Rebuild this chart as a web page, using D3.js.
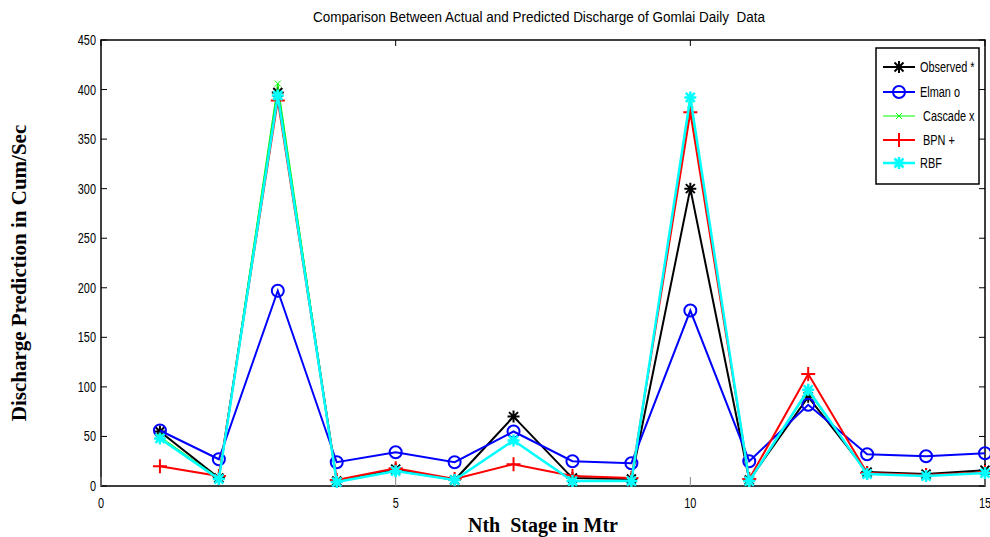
<!DOCTYPE html>
<html>
<head>
<meta charset="utf-8">
<script src="https://cdn.jsdelivr.net/npm/d3@7"></script>
<style>
  html, body { margin: 0; padding: 0; background: #fff; }
  svg { display: block; }
  text { white-space: pre; }
</style>
</head>
<body>
<svg id="chart" width="990" height="537"></svg>
<script>
// Stage index (x) and discharge series
const stages = [1, 2, 3, 4, 5, 6, 7, 8, 9, 10, 11, 12, 13, 14, 15];
const observed = [55, 8, 397, 5, 17, 6, 70, 8, 7, 300, 6, 90, 14, 12, 16];
const elman    = [56, 27, 197, 24, 34, 24, 55, 25, 23, 177, 25, 82, 32, 30, 33];
const cascade  = [50, 8, 406, 5, 15, 6, 46, 5, 5, 385, 6, 95, 13, 11, 14];
const bpn      = [20, 10, 389, 6, 18, 7, 22, 10, 8, 377, 7, 113, 13, 11, 14];
const rbf      = [48, 7, 394, 4, 15, 6, 46, 5, 5, 392, 5, 97, 12, 10, 13];

const xTicks = [0, 5, 10, 15];
const yTicks = [0, 50, 100, 150, 200, 250, 300, 350, 400, 450];

const titleText = "Comparison Between Actual and Predicted Discharge of Gomlai Daily  Data";
const xLabel = "Nth  Stage in Mtr";
const yLabel = "Discharge Prediction in Cum/Sec";

const seriesDefs = [
  { name: "Observed *", values: observed, color: "#000000", width: 2,   marker: "asterisk", size: 6 },
  { name: "Elman o",    values: elman,    color: "#0000ff", width: 2,   marker: "circle",   size: 6 },
  { name: "Cascade x",  values: cascade,  color: "#00ff00", width: 1,   marker: "x",        size: 3 },
  { name: "BPN +",      values: bpn,      color: "#ff0000", width: 2,   marker: "plus",     size: 7 },
  { name: "RBF",        values: rbf,      color: "#00ffff", width: 2.5, marker: "asterisk", size: 6 }
];

const svg = d3.select("#chart");
const plot = { left: 101, right: 985, top: 40, bottom: 486 };

const x = d3.scaleLinear().domain([0, 15]).range([plot.left, plot.right]);
const y = d3.scaleLinear().domain([0, 450]).range([plot.bottom, plot.top]);

const narrowFont = "Liberation Sans, Arial, sans-serif";
const serifFont = "Liberation Serif, Times New Roman, serif";

// Marker shapes as SVG paths centred at (0,0)
function markerPath(type, s) {
  if (type === "circle") {
    return `M${s},0A${s},${s} 0 1,1 ${-s},0A${s},${s} 0 1,1 ${s},0Z`;
  }
  if (type === "plus") {
    return `M${-s},0H${s}M0,${-s}V${s}`;
  }
  if (type === "x") {
    return `M${-s},${-s}L${s},${s}M${-s},${s}L${s},${-s}`;
  }
  // asterisk: plus + diagonal cross
  const d = s * 0.75;
  return `M${-s},0H${s}M0,${-s}V${s}M${-d},${-d}L${d},${d}M${-d},${d}L${d},${-d}`;
}

// Axes box
svg.append("rect")
  .attr("x", plot.left).attr("y", plot.top)
  .attr("width", plot.right - plot.left).attr("height", plot.bottom - plot.top)
  .attr("fill", "none").attr("stroke", "#000").attr("stroke-width", 1.5);

// Y ticks (inward on both sides) and labels
const yAxis = svg.append("g");
yTicks.forEach(t => {
  const yy = y(t);
  yAxis.append("line").attr("x1", plot.left).attr("x2", plot.left + 6)
    .attr("y1", yy).attr("y2", yy).attr("stroke", "#000");
  yAxis.append("line").attr("x1", plot.right).attr("x2", plot.right - 6)
    .attr("y1", yy).attr("y2", yy).attr("stroke", "#000");
  yAxis.append("text")
    .attr("transform", `translate(${plot.left - 5},${yy + 5}) scale(0.78,1.05)`)
    .attr("text-anchor", "end")
    .attr("font-family", narrowFont).attr("font-size", 14)
    .text(t);
});

// X ticks and labels
const xAxis = svg.append("g");
xTicks.forEach(t => {
  const xx = x(t);
  xAxis.append("line").attr("x1", xx).attr("x2", xx)
    .attr("y1", plot.bottom).attr("y2", plot.bottom - 9)
    .attr("stroke", "#888");
  xAxis.append("line").attr("x1", xx).attr("x2", xx)
    .attr("y1", plot.top).attr("y2", plot.top + 6)
    .attr("stroke", "#000");
  xAxis.append("text")
    .attr("transform", `translate(${xx},${plot.bottom + 22}) scale(0.78,1.05)`)
    .attr("text-anchor", "middle")
    .attr("font-family", narrowFont).attr("font-size", 14)
    .text(t);
});

// Series lines and markers
const line = d3.line().x((d, i) => x(stages[i])).y(d => y(d));
seriesDefs.forEach(s => {
  const g = svg.append("g");
  g.append("path")
    .attr("d", line(s.values))
    .attr("fill", "none").attr("stroke", s.color)
    .attr("stroke-width", s.width).attr("stroke-linejoin", "miter");
  g.selectAll("path.m").data(s.values).join("path")
    .attr("class", "m")
    .attr("transform", (d, i) => `translate(${x(stages[i])},${y(d)})`)
    .attr("d", markerPath(s.marker, s.size))
    .attr("fill", "none").attr("stroke", s.color)
    .attr("stroke-width", s.width);
});

// Title
svg.append("text")
  .attr("x", 539).attr("y", 22)
  .attr("text-anchor", "middle")
  .attr("font-family", narrowFont).attr("font-size", 14)
  .attr("textLength", 452).attr("lengthAdjust", "spacingAndGlyphs")
  .text(titleText);

// Axis titles
svg.append("text")
  .attr("x", 543).attr("y", 532)
  .attr("text-anchor", "middle")
  .attr("font-family", serifFont)
  .attr("font-weight", "bold").attr("font-size", 20)
  .text(xLabel);

svg.append("text")
  .attr("transform", "translate(26,273) rotate(-90)")
  .attr("text-anchor", "middle")
  .attr("font-family", serifFont)
  .attr("font-weight", "bold").attr("font-size", 21)
  .text(yLabel);

// Legend
const legend = svg.append("g");
legend.append("rect")
  .attr("x", 876).attr("y", 48).attr("width", 103).attr("height", 136)
  .attr("fill", "#fff").attr("stroke", "#000").attr("stroke-width", 1.5);
const legendY = [67, 92, 116, 140, 163];
const legendTextX = [920, 920, 923, 923, 920];
seriesDefs.forEach((s, i) => {
  const ly = legendY[i];
  legend.append("line")
    .attr("x1", 883).attr("x2", 915).attr("y1", ly).attr("y2", ly)
    .attr("stroke", s.color).attr("stroke-width", s.width);
  legend.append("path")
    .attr("transform", `translate(899,${ly})`)
    .attr("d", markerPath(s.marker, s.size))
    .attr("fill", "none").attr("stroke", s.color).attr("stroke-width", s.width);
  legend.append("text")
    .attr("transform", `translate(${legendTextX[i]},${ly + 5}) scale(0.78,1.05)`)
    .attr("font-family", narrowFont).attr("font-size", 14)
    .text(s.name);
});
</script>
</body>
</html>
